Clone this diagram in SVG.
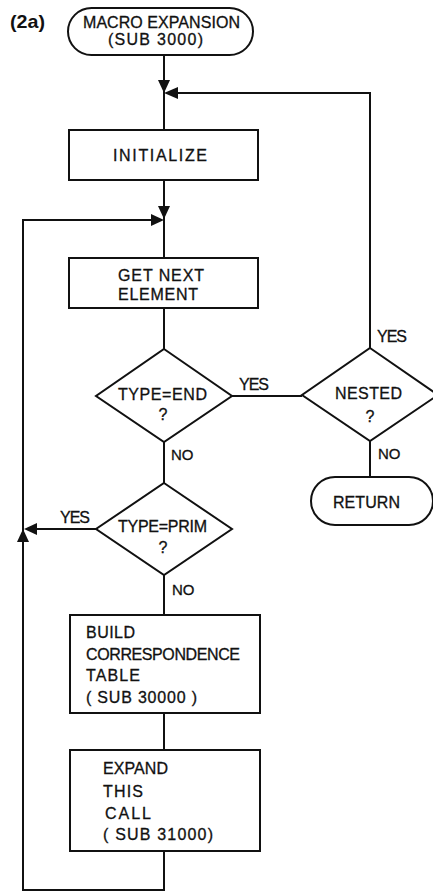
<svg xmlns="http://www.w3.org/2000/svg" width="433" height="892" viewBox="0 0 433 892">
<defs>
<style>
.s{fill:#fff;stroke:#111;stroke-width:2}
.l{fill:none;stroke:#111;stroke-width:2}
.t{font-family:"Liberation Sans",Arial,sans-serif;font-size:16px;fill:#111;stroke:#111;stroke-width:0.3}
.n{font-size:15px}
.c{text-anchor:middle}
.h{fill:#111}
</style>
</defs>
<rect width="433" height="892" fill="#fff"/>
<text x="10" y="28" textLength="35" lengthAdjust="spacingAndGlyphs" style="font-family:'Liberation Sans',Arial,sans-serif;font-size:19px;font-weight:bold;fill:#111">(2a)</text>
<g id="connectors">
<path class="l" d="M164 55 V130"/>
<path class="l" d="M370 348 V93 H170"/>
<path class="l" d="M164 180 V258"/>
<path class="l" d="M164 308 V349"/>
<path class="l" d="M232 396 H302"/>
<path class="l" d="M370 441 V477"/>
<path class="l" d="M164 442 V483"/>
<path class="l" d="M96 529 H32"/>
<path class="l" d="M164 575 V615"/>
<path class="l" d="M164 713 V750"/>
<path class="l" d="M164 851 V890 H23 V220 H156"/>
<polygon class="h" points="158,80 170,80 164,93"/>
<polygon class="h" points="178,87 178,99 164,93"/>
<polygon class="h" points="158,206 170,206 164,219"/>
<polygon class="h" points="151,214 151,226 164,220"/>
<polygon class="h" points="37,523 37,535 24,529"/>
<polygon class="h" points="17,542 29,542 23,529"/>
<text class="t" x="239" y="390" textLength="30">YES</text>
<text class="t" x="377" y="342" textLength="30">YES</text>
<text class="t" x="60" y="523" textLength="30">YES</text>
<text class="t n" x="171" y="460">NO</text>
<text class="t n" x="172" y="595">NO</text>
<text class="t n" x="378" y="459">NO</text>
</g>
<g id="start">
<rect class="s" x="68" y="8" width="185" height="47" rx="23.5"/>
<text class="t" x="83" y="28" textLength="157">MACRO EXPANSION</text>
<text class="t" x="108" y="45" textLength="95">(SUB 3000)</text>
</g>
<g id="initialize">
<rect class="s" x="69" y="130" width="189" height="50"/>
<text class="t" x="113" y="161" textLength="94">INITIALIZE</text>
</g>
<g id="getnext">
<rect class="s" x="69" y="258" width="189" height="50"/>
<text class="t" x="118" y="281" textLength="86">GET NEXT</text>
<text class="t" x="118" y="300" textLength="80">ELEMENT</text>
</g>
<g id="typeend">
<polygon class="s" points="164,349 232,396 164,442 96,396"/>
<text class="t" x="118" y="400" textLength="89">TYPE=END</text>
<text class="t c" x="163" y="420">?</text>
</g>
<g id="nested">
<polygon class="s" points="370,348 438,395 370,441 302,395"/>
<text class="t" x="335" y="399" textLength="67">NESTED</text>
<text class="t c" x="370" y="422">?</text>
</g>
<g id="return">
<rect class="s" x="311" y="477" width="122" height="48" rx="24"/>
<text class="t" x="333" y="508" textLength="67">RETURN</text>
</g>
<g id="typeprim">
<polygon class="s" points="164,483 232,529 164,575 96,529"/>
<text class="t" x="118" y="532" textLength="89">TYPE=PRIM</text>
<text class="t c" x="163" y="553">?</text>
</g>
<g id="build">
<rect class="s" x="70" y="615" width="190" height="98"/>
<text class="t" x="86" y="638" textLength="49">BUILD</text>
<text class="t" x="86" y="660" textLength="154">CORRESPONDENCE</text>
<text class="t" x="86" y="681" textLength="54">TABLE</text>
<text class="t" x="86" y="703" textLength="111">( SUB 30000 )</text>
</g>
<g id="expand">
<rect class="s" x="70" y="750" width="190" height="101"/>
<text class="t" x="103" y="774" textLength="65">EXPAND</text>
<text class="t" x="103" y="797" textLength="40">THIS</text>
<text class="t" x="105" y="819" textLength="46">CALL</text>
<text class="t" x="103" y="840" textLength="110">( SUB 31000)</text>
</g>
</svg>
